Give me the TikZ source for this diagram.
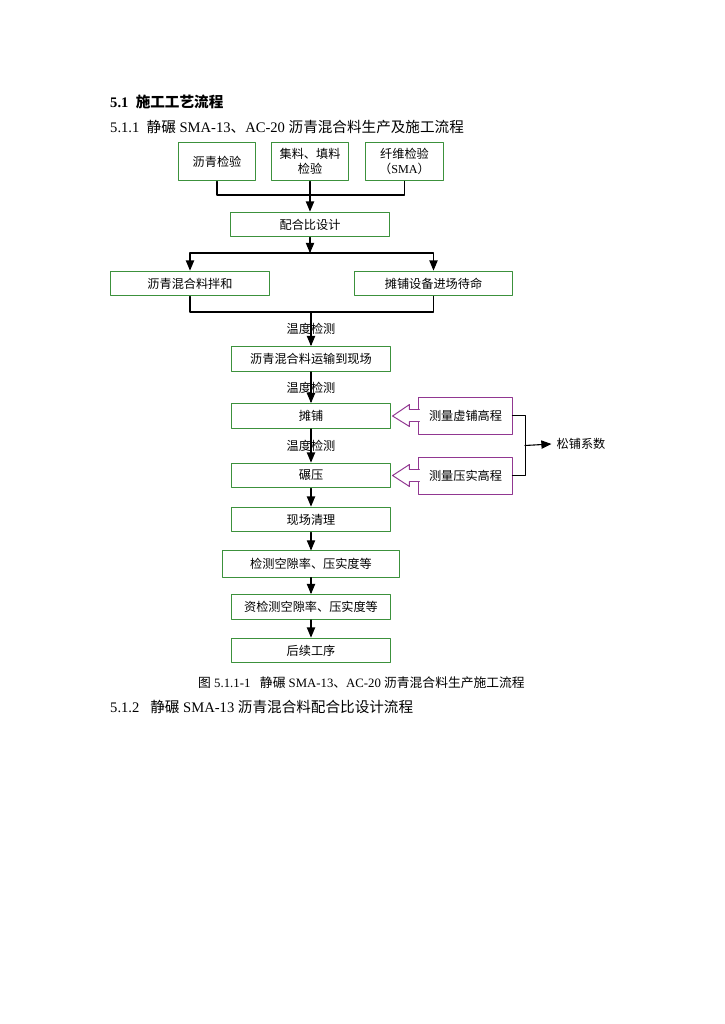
\documentclass[tikz,border=0pt]{standalone}
\usepackage{fontspec}
\setmainfont{Liberation Serif}
\newfontfamily\cjk{Noto Sans CJK SC}
\usetikzlibrary{arrows}
\usetikzlibrary{calc}
\definecolor{boxgreen}{RGB}{60,145,60}
\definecolor{boxpurple}{RGB}{145,55,145}
\tikzset{
gbox/.style={draw=boxgreen,line width=0.8pt,font=\cjk\fontsize{10pt}{12pt}\selectfont,minimum width=130pt,minimum height=20.5pt,inner sep=1pt,align=center},
pbox/.style={draw=boxpurple,line width=0.8pt,font=\cjk\fontsize{10pt}{12pt}\selectfont,minimum width=76.5pt,minimum height=30.4pt,inner sep=1pt},
hollow/.style={draw=boxpurple,fill=white,line width=0.8pt},
link/.style={line width=0.9pt},
lbl/.style={font=\cjk\fontsize{10pt}{12pt}\selectfont,inner sep=0pt},
body/.style={anchor=west,inner sep=0pt,font=\fontsize{12pt}{14pt}\selectfont}
}
\begin{document}
\begin{tikzpicture}[line cap=round,line join=round,>=triangle 45,x=0.822pt,y=-0.822pt]
\useasboundingbox (0,0) rectangle (724,1024);
% headings
\node[body] (h1) at (110,102) {\bfseries 5.1\ \ {\cjk 施工工艺流程}};
\node[body] (h2) at (110,127) {5.1.1\ \ {\cjk 静碾} SMA-13{\cjk 、}AC-20 {\cjk 沥青混合料生产及施工流程}};
% first row
\node[gbox,minimum width=64pt,minimum height=32pt] (t1) at (217,161.5) {沥青检验};
\node[gbox,minimum width=64pt,minimum height=32pt] (t2) at (310,161.5) {集料、填料\\检验};
\node[gbox,minimum width=64pt,minimum height=32pt] (t3) at (404.5,161.5) {纤维检验\\（{\rmfamily SMA}）};
\node[gbox] (mix) at (310,224.5) {配合比设计};
\node[gbox] (plant) at (190,283.5) {沥青混合料拌和};
\node[gbox] (equip) at (433.5,283.5) {摊铺设备进场待命};
% main column
\node[gbox] (haul) at (311,359) {沥青混合料运输到现场};
\node[gbox] (pave) at (311,416) {摊铺};
\node[gbox] (roll) at (311,475.5) {碾压};
\node[gbox] (clean) at (311,519.5) {现场清理};
\node[gbox,minimum width=145.5pt,minimum height=21.5pt] (test) at (311,564) {检测空隙率、压实度等};
\node[gbox] (retest) at (311,607) {资检测空隙率、压实度等};
\node[gbox] (next) at (311,650.5) {后续工序};
% elevation
\node[pbox] (m1) at (465.5,415.5) {测量虚铺高程};
\node[pbox] (m2) at (465.5,475.5) {测量压实高程};
\node[lbl] (coef) at (581,444) {松铺系数};
% connectors
\coordinate (j1) at (310,195);
\coordinate (j2) at (310,253);
\coordinate (j3) at (311,312);
\coordinate (j4) at (525,445.5);
\draw[link] (t1.south) |- (j1) -| (t3.south);
\draw[->,link] (t2.south) -- (mix.north);
\draw[->,link] (mix.south) -- (j2);
\draw[->,link] (j2) -| (plant.north);
\draw[->,link] (j2) -| (equip.north);
\draw[link] (plant.south) |- (j3) -| (equip.south);
\draw[->,link] (j3) -- (haul.north) node[lbl,midway] {温度检测};
\draw[->,link] (haul.south) -- (pave.north) node[lbl,midway] {温度检测};
\draw[->,link] (pave.south) -- (roll.north) node[lbl,midway] {温度检测};
\draw[->,link] (roll.south) -- (clean.north);
\draw[->,link] (clean.south) -- (test.north);
\draw[->,link] (test.south) -- (retest.north);
\draw[->,link] (retest.south) -- (next.north);
\draw[link] (m1.east) -- ++(13,0) |- (m2.east);
\draw[->,link] (j4) -- ($(coef.west)+(-5,0)$);
% hollow arrows
\filldraw[hollow] ($(m1.west)+(1,-6)$) -- ++(-10,0) -- ++(0,-5) -- ($(pave.east)+(2,0)$) -- ($(m1.west)+(-9,11)$) -- ++(0,-5) -- ($(m1.west)+(1,6)$);
\filldraw[hollow] ($(m2.west)+(1,-6)$) -- ++(-10,0) -- ++(0,-5) -- ($(roll.east)+(2,0)$) -- ($(m2.west)+(-9,11)$) -- ++(0,-5) -- ($(m2.west)+(1,6)$);
% caption
\node[body,font=\fontsize{10.5pt}{12pt}\selectfont] (cap) at (198,683) {{\cjk 图} 5.1.1-1\ \ \ {\cjk 静碾} SMA-13{\cjk 、}AC-20 {\cjk 沥青混合料生产施工流程}};
\node[body] (h3) at (110,707) {5.1.2\ \ \ {\cjk 静碾} SMA-13 {\cjk 沥青混合料配合比设计流程}};
\end{tikzpicture}
\end{document}
